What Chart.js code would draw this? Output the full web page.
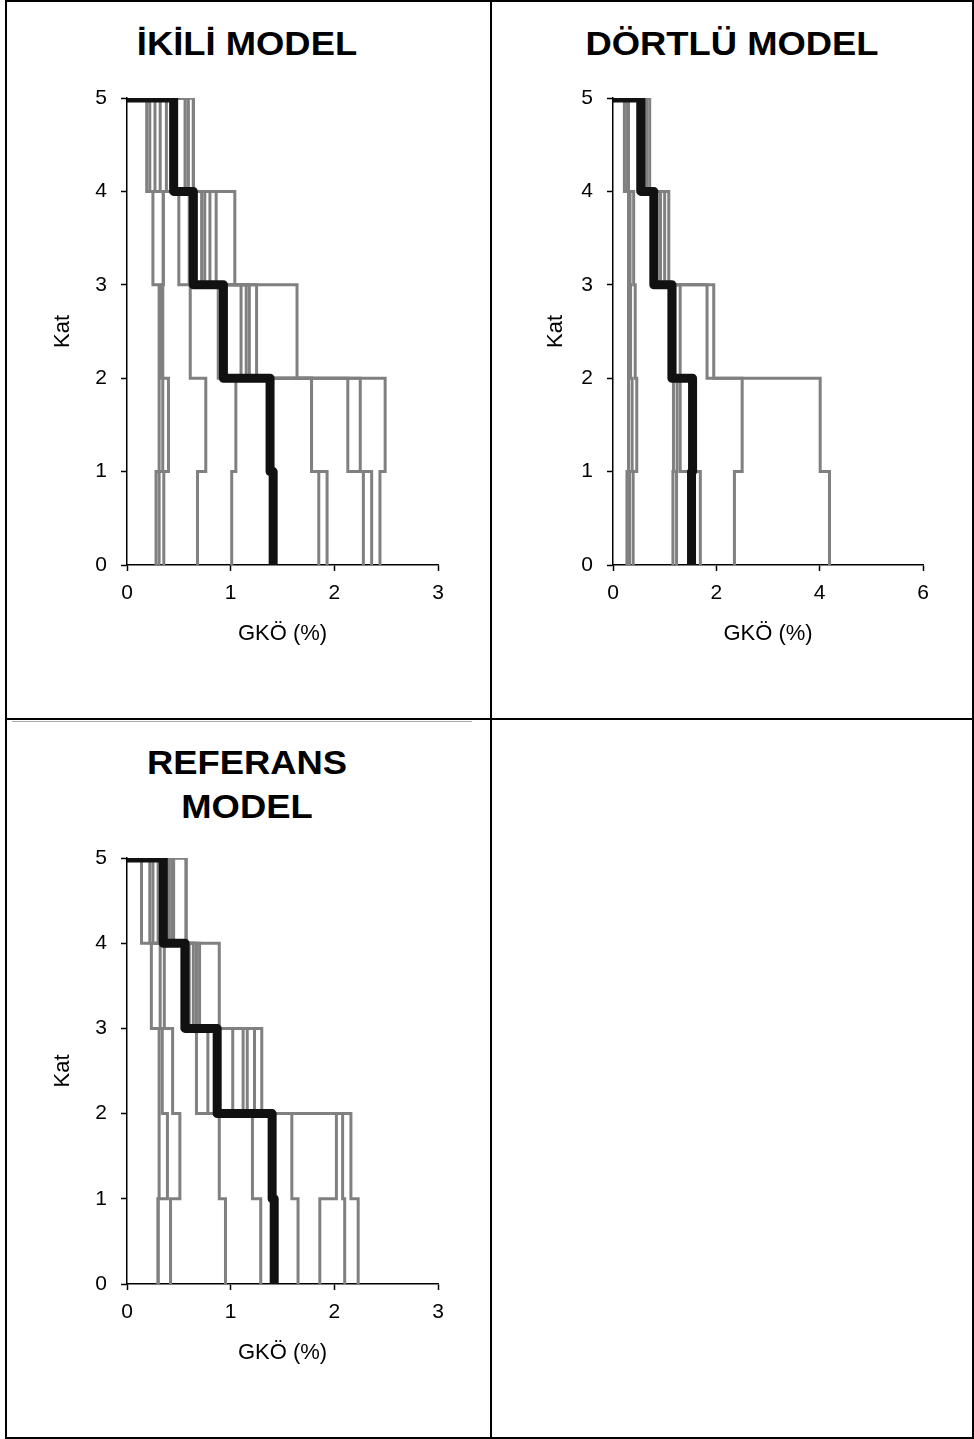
<!DOCTYPE html>
<html><head><meta charset="utf-8">
<script src="https://cdn.jsdelivr.net/npm/chart.js@4/dist/chart.umd.min.js"></script>
<style>
html,body{margin:0;padding:0;background:#fff;}
body{width:974px;height:1439px;position:relative;overflow:hidden;font-family:"Liberation Sans",Arial,sans-serif;}
.ln{position:absolute;background:#000;}
.title{position:absolute;font-weight:bold;font-size:34px;line-height:34px;text-align:center;color:#000;transform:scaleX(1.07);transform-origin:center;}
canvas{position:absolute;}
</style></head><body>
<div class="ln" style="left:5px;top:0;width:969px;height:2px"></div>
<div class="ln" style="left:5px;top:1437px;width:969px;height:2px"></div>
<div class="ln" style="left:5px;top:0;width:2px;height:1439px"></div>
<div class="ln" style="left:972px;top:0;width:2px;height:1439px"></div>
<div class="ln" style="left:490px;top:0;width:2px;height:1439px"></div>
<div class="ln" style="left:5px;top:718px;width:969px;height:2px"></div>
<div class="ln" style="left:12px;top:721px;width:460px;height:1px;background:#aaa"></div>

<div class="title" style="left:0;top:26px;width:494px">İKİLİ MODEL</div>
<div class="title" style="left:492px;top:26px;width:480px">DÖRTLÜ MODEL</div>
<div class="title" style="left:0;top:740px;width:494px;line-height:44px">REFERANS<br>MODEL</div>

<canvas id="c1" width="491" height="718" style="left:0;top:0"></canvas>
<canvas id="c2" width="482" height="718" style="left:491px;top:0"></canvas>
<canvas id="c3" width="491" height="719" style="left:0;top:719px"></canvas>

<script>
// Story (kat) levels
const storyTicks = [0, 1, 2, 3, 4, 5];
const xLabel = 'GKÖ (%)';
const yLabel = 'Kat';

// Drift values per record, ordered [kat1, kat2, kat3, kat4, kat5] (%)
const ikiliRecords = [
  [0.28, 0.31, 0.31, 0.25, 0.19],
  [0.31, 0.345, 0.345, 0.35, 0.22],
  [0.355, 0.40, 0.33, 0.35, 0.27],
  [0.68, 0.76, 0.61, 0.50, 0.32],
  [1.01, 1.05, 0.88, 0.72, 0.38],
  [1.85, 1.78, 1.10, 0.80, 0.56],
  [1.93, 1.78, 1.15, 0.86, 0.59],
  [2.28, 2.13, 1.18, 0.60, 0.64],
  [2.36, 2.25, 1.25, 0.75, 0.59],
  [2.44, 2.49, 1.64, 1.04, 0.64]
];
const ikiliMean = [1.41, 1.38, 0.93, 0.64, 0.45];

const dortluRecords = [
  [0.27, 0.30, 0.30, 0.30, 0.22],
  [0.32, 0.37, 0.34, 0.33, 0.27],
  [0.39, 0.46, 0.43, 0.40, 0.30],
  [1.16, 1.17, 1.15, 0.75, 0.48],
  [1.23, 1.24, 1.20, 0.85, 0.55],
  [1.69, 1.30, 1.30, 0.92, 0.60],
  [2.35, 2.50, 1.82, 1.00, 0.65],
  [4.19, 4.01, 1.95, 1.08, 0.71]
];
const dortluMean = [1.52, 1.54, 1.14, 0.79, 0.54];

const referansRecords = [
  [0.30, 0.31, 0.31, 0.235, 0.14],
  [0.30, 0.39, 0.34, 0.32, 0.22],
  [0.42, 0.51, 0.44, 0.36, 0.25],
  [0.95, 0.89, 0.67, 0.53, 0.30],
  [1.29, 1.21, 1.02, 0.64, 0.43],
  [1.65, 1.59, 1.12, 0.67, 0.40],
  [1.86, 2.02, 1.23, 0.70, 0.57],
  [2.10, 2.08, 1.30, 0.89, 0.57],
  [2.23, 2.16, 1.16, 0.60, 0.45],
  [1.42, 1.38, 0.78, 0.55, 0.35]
];
const referansMean = [1.42, 1.40, 0.87, 0.56, 0.35];

const ikiliXTicks = [0, 1, 2, 3];
const dortluXTicks = [0, 2, 4, 6];
const referansXTicks = [0, 1, 2, 3];

Chart.defaults.font.family = '"Liberation Sans", Arial, sans-serif';
Chart.defaults.color = '#000';

// Build step profile: starts at (0, top story) then each story's drift
function profile(vals) {
  const pts = [{x: 0, y: storyTicks[storyTicks.length - 1]}];
  for (let k = vals.length; k >= 1; k--) {
    pts.push({x: vals[k - 1], y: k - 1});
  }
  return pts;
}

function makeChart(id, records, mean, xTicks, geo) {
  const datasets = [{
    data: profile(mean), borderColor: '#111111', borderWidth: 9,
    borderJoinStyle: 'round', stepped: 'before', pointRadius: 0, order: 0
  }];
  records.forEach(r => datasets.push({
    data: profile(r), borderColor: '#808080', borderWidth: 3,
    borderJoinStyle: 'miter', stepped: 'before', pointRadius: 0, order: 1
  }));
  new Chart(document.getElementById(id), {
    type: 'line',
    data: {datasets},
    options: {
      responsive: false, animation: false, devicePixelRatio: 1,
      layout: {padding: geo.pad},
      plugins: {legend: {display: false}, tooltip: {enabled: false}},
      scales: {
        x: {
          type: 'linear', min: xTicks[0], max: xTicks[xTicks.length - 1],
          afterBuildTicks: s => { s.ticks = xTicks.map(v => ({value: v})); },
          afterFit: s => { s.height = geo.xH; },
          border: {color: '#000', width: 1.5},
          grid: {display: true, drawOnChartArea: false, tickLength: 6, tickColor: '#000', tickWidth: 1.5},
          ticks: {font: {size: 21}, padding: 10, color: '#000', maxRotation: 0},
          title: {display: true, text: xLabel, font: {size: 22}, padding: 0, color: '#000'}
        },
        y: {
          type: 'linear', min: storyTicks[0], max: storyTicks[storyTicks.length - 1],
          afterBuildTicks: s => { s.ticks = storyTicks.map(v => ({value: v})); },
          afterFit: s => { s.width = geo.yW; },
          border: {color: '#000', width: 1.5},
          grid: {display: true, drawOnChartArea: false, tickLength: 6, tickColor: '#000', tickWidth: 1.5},
          ticks: {font: {size: 21}, padding: 14, color: '#000'},
          title: {display: true, text: yLabel, font: {size: 22}, padding: 0, color: '#000'}
        }
      }
    }
  });
}

makeChart('c1', ikiliRecords, ikiliMean, ikiliXTicks,
  {pad: {left: 50, top: 98, right: 53, bottom: 71}, yW: 77, xH: 82});
makeChart('c2', dortluRecords, dortluMean, dortluXTicks,
  {pad: {left: 52, top: 98, right: 50, bottom: 71}, yW: 70, xH: 82});
makeChart('c3', referansRecords, referansMean, referansXTicks,
  {pad: {left: 50, top: 139, right: 53, bottom: 72}, yW: 77, xH: 82});
</script>
</body></html>
